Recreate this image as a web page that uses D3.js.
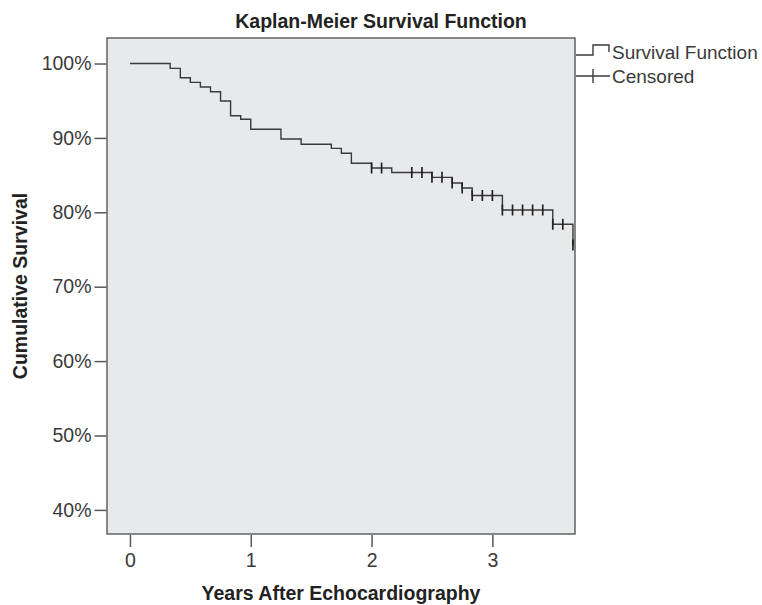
<!DOCTYPE html>
<html>
<head>
<meta charset="utf-8">
<script src="https://cdnjs.cloudflare.com/ajax/libs/d3/7.8.5/d3.min.js"></script>
<style>
  html, body { margin: 0; padding: 0; background: #ffffff; }
  svg text { font-family: "Liberation Sans", Arial, sans-serif; }
</style>
</head>
<body>
<svg id="chart" width="762" height="605"></svg>
<script>
// ---- data ----
const eventTimes = [0, 0.333, 0.417, 0.5, 0.583, 0.667, 0.75, 0.833, 0.917, 1.0, 1.25, 1.417, 1.667, 1.75, 1.833, 2.0, 2.167, 2.5, 2.667, 2.75, 2.833, 3.083, 3.5, 3.667];
const survival   = [100, 99.35, 98.09, 97.47, 96.84, 96.21, 94.96, 92.98, 92.5, 91.16, 89.85, 89.14, 88.6, 87.93, 86.59, 85.95, 85.35, 84.7, 83.94, 83.27, 82.26, 80.31, 78.39, 75.6];
const censoredTimes = [2.0, 2.083, 2.333, 2.417, 2.5, 2.583, 2.667, 2.75, 2.833, 2.917, 3.0, 3.083, 3.167, 3.25, 3.333, 3.417, 3.5, 3.583, 3.667];
const xTicks = [0, 1, 2, 3];
const yTicks = [40, 50, 60, 70, 80, 90, 100];
const titleText = "Kaplan-Meier Survival Function";
const xTitle = "Years After Echocardiography";
const yTitle = "Cumulative Survival";
const legendLabels = ["Survival Function", "Censored"];

// ---- layout ----
const svg = d3.select("#chart");
const plot = { left: 107, top: 38, right: 575, bottom: 534 };
const x = d3.scaleLinear().domain([-0.19, 3.684]).range([plot.left, plot.right]);
const y = d3.scaleLinear().domain([36.76, 103.43]).range([plot.bottom, plot.top]);

const axisColor = "#585858";
const textColor = "#3a3a3a";

// plot background + frame
svg.append("rect")
  .attr("x", plot.left).attr("y", plot.top)
  .attr("width", plot.right - plot.left).attr("height", plot.bottom - plot.top)
  .attr("fill", "#e8e9eb").attr("stroke", axisColor).attr("stroke-width", 1.4);

// y axis
const yAxis = d3.axisLeft(y).tickValues(yTicks).tickSize(12).tickPadding(3)
  .tickFormat(d => d + "%");
const gy = svg.append("g").attr("transform", `translate(${plot.left - 0.5},0)`).call(yAxis);
gy.select(".domain").remove();
gy.selectAll(".tick line").attr("stroke", axisColor).attr("stroke-width", 1.5);
gy.selectAll(".tick text").attr("fill", textColor).style("font-size", "19.5px")
  .style("font-family", '"Liberation Sans", Arial, sans-serif');

// x axis
const xAxis = d3.axisBottom(x).tickValues(xTicks).tickSize(12).tickPadding(6)
  .tickFormat(d3.format("d"));
const gx = svg.append("g").attr("transform", `translate(0,${plot.bottom + 1})`).call(xAxis);
gx.select(".domain").remove();
gx.selectAll(".tick line").attr("stroke", axisColor).attr("stroke-width", 1.5);
gx.selectAll(".tick text").attr("fill", textColor).style("font-size", "19.5px")
  .style("font-family", '"Liberation Sans", Arial, sans-serif');

// survival step line
const pts = eventTimes.map((t, i) => [t, survival[i]]);
const line = d3.line().x(d => x(d[0])).y(d => y(d[1])).curve(d3.curveStepAfter);
svg.append("path").datum(pts)
  .attr("d", line).attr("fill", "none")
  .attr("stroke", "#3a3a3a").attr("stroke-width", 1.4);

// censor marks
function survAt(t) {
  let s = survival[0];
  for (let i = 0; i < eventTimes.length; i++) if (eventTimes[i] <= t + 1e-9) s = survival[i];
  return s;
}
svg.append("g").selectAll("line").data(censoredTimes).join("line")
  .attr("x1", d => x(d)).attr("x2", d => x(d))
  .attr("y1", d => y(survAt(d)) - 5.5).attr("y2", d => y(survAt(d)) + 5.5)
  .attr("stroke", "#222").attr("stroke-width", 1.7);

// titles
svg.append("text").attr("x", 381).attr("y", 28).attr("text-anchor", "middle")
  .attr("fill", "#222").style("font-size", "19.5px").style("font-weight", "bold").text(titleText);
svg.append("text").attr("x", (plot.left + plot.right) / 2).attr("y", 600).attr("text-anchor", "middle")
  .attr("fill", "#222").style("font-size", "19.5px").style("font-weight", "bold").text(xTitle);
svg.append("text").attr("transform", `translate(27,${(plot.top + plot.bottom) / 2}) rotate(-90)`)
  .attr("text-anchor", "middle")
  .attr("fill", "#222").style("font-size", "19.5px").style("font-weight", "bold").text(yTitle);

// legend
const lg = svg.append("g");
const lx = plot.right + 1;
lg.append("path")
  .attr("d", `M${lx},55 H${lx + 17} V45 H${lx + 33} V52`)
  .attr("fill", "none").attr("stroke", "#3a3a3a").attr("stroke-width", 1.4);
lg.append("text").attr("x", lx + 36).attr("y", 59).attr("fill", textColor)
  .style("font-size", "19px").text(legendLabels[0]);
lg.append("line").attr("x1", lx).attr("x2", lx + 34).attr("y1", 76).attr("y2", 76)
  .attr("stroke", "#3a3a3a").attr("stroke-width", 1.4);
lg.append("line").attr("x1", lx + 17).attr("x2", lx + 17).attr("y1", 69).attr("y2", 83)
  .attr("stroke", "#3a3a3a").attr("stroke-width", 1.4);
lg.append("text").attr("x", lx + 36).attr("y", 83).attr("fill", textColor)
  .style("font-size", "19px").text(legendLabels[1]);
</script>
</body>
</html>
